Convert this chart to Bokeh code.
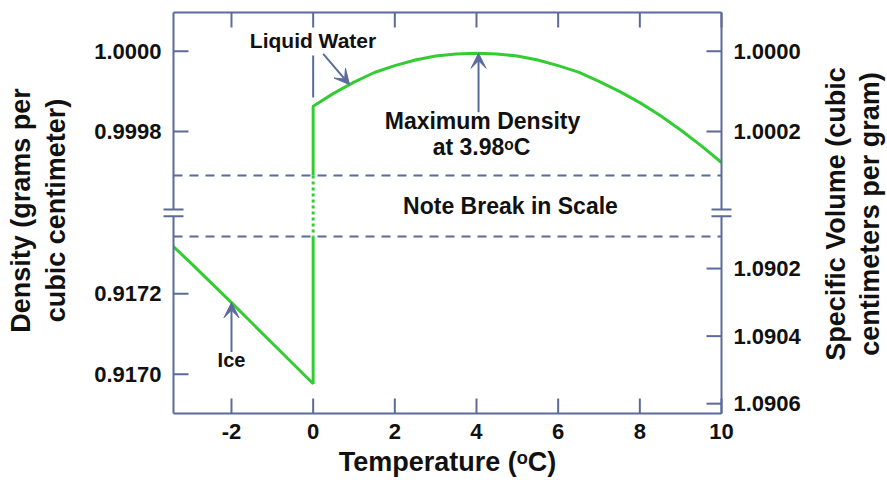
import math
import numpy as np
from bokeh.plotting import figure
from bokeh.models import Range1d, Label, Arrow, VeeHead
from bokeh.embed import file_html
from bokeh.resources import INLINE

# ---------------- data ----------------
temp_ticks = [-2, 0, 2, 4, 6, 8, 10]
temp_tick_labels = ["-2", "0", "2", "4", "6", "8", "10"]

melt_temp = 0.0
ice_temp = [-3.5, -3.0, -2.0, -1.0, 0.0]
ice_density = [0.917325, 0.917277, 0.917178, 0.917077, 0.916976]

water_temp = [0.0, 0.5, 1.0, 1.5, 2.0, 2.5, 3.0, 3.5, 4.0, 4.5, 5.0,
              5.5, 6.0, 6.5, 7.0, 7.5, 8.0, 8.5, 9.0, 9.5, 10.0]
water_density = [0.999863, 0.999895, 0.999923, 0.999947, 0.999964, 0.999978,
                 0.999988, 0.999993, 0.999995, 0.999993, 0.999988, 0.999978,
                 0.999964, 0.999948, 0.999925, 0.999900, 0.999872, 0.999840,
                 0.999804, 0.999765, 0.999723]

density_ticks = [1.0000, 0.9998, 0.9172, 0.9170]
density_tick_labels = ["1.0000", "0.9998", "0.9172", "0.9170"]
volume_ticks = [1.0000, 1.0002, 1.0902, 1.0904, 1.0906]
volume_tick_labels = ["1.0000", "1.0002", "1.0902", "1.0904", "1.0906"]

x_title = "Temperature (\u1d52C)"
left_title = ["Density (grams per", "cubic centimeter)"]
right_title = ["Specific Volume (cubic", "centimeters per gram)"]

max_density_temp = 4.05   # where the arrow points
liquid_arrow_temp = 0.89
ice_arrow_temp = -2.0

# ---------------- broken-scale mapping ----------------
UNIT = 0.0001
UPPER_REF = 1.0000
LOWER_REF = 0.9172
LOWER_SHIFT = 6.04


def to_u(d):
    d = np.asarray(d, dtype=float)
    return np.where(d > 0.95, (d - UPPER_REF) / UNIT, (d - LOWER_REF) / UNIT - LOWER_SHIFT)


# ---------------- layout (page pixel -> data) ----------------
X0, X1 = -3.42, 10.0          # plot box (temperature)
U0, U1 = -9.02, 0.964         # plot box (broken density scale)
BOX_L, BOX_W = 173.0, 548.0
BOX_T, BOX_H = 12.0, 401.0
PX_X = BOX_W / (X1 - X0)
PX_U = BOX_H / (U1 - U0)
W, H = 887, 480


def X(px):
    return X0 + (px - BOX_L) / PX_X


def U(py):
    return U1 - (py - BOX_T) / PX_U


AXIS = "#5b6b9b"
GREEN = "#33cc33"
FONT = "Liberation Sans"
TXT = "#111111"

p = figure(width=W, height=H, output_backend="svg", toolbar_location=None,
           x_range=Range1d(X(0), X(W)), y_range=Range1d(U(H), U(0)),
           x_axis_location=None, y_axis_location=None, min_border=0)
p.min_border_left = p.min_border_right = p.min_border_top = p.min_border_bottom = 0
p.xgrid.visible = False
p.ygrid.visible = False
p.outline_line_color = None
p.background_fill_color = "white"
p.border_fill_color = "white"

MARK_HI = U(209.0)
MARK_LO = U(215.7)
BREAK_HI = U(175)
BREAK_LO = U(236)
TICK_X = 15 / PX_X
TICK_U = 15 / PX_U
MARK_X = 10 / PX_X

left_u = list(to_u(density_ticks))
right_u = list(to_u(1.0 / np.asarray(volume_ticks)))

# curves
water_u = to_u(water_density)
ice_u = to_u(ice_density)
p.line([melt_temp] + water_temp, [BREAK_HI] + list(water_u),
       line_color=GREEN, line_width=3)
p.line(ice_temp + [melt_temp], list(ice_u) + [BREAK_LO],
       line_color=GREEN, line_width=3)
p.line([melt_temp, melt_temp], [BREAK_HI, BREAK_LO],
       line_color=GREEN, line_width=3, line_dash="3 3")
# mask the ice line left of the plot box
p.quad(left=[X(0)], right=[X0], bottom=[U0], top=[U1],
       fill_color="white", line_color=None)

# scale-break dashed lines
p.segment(x0=[X0, X0], y0=[BREAK_HI, BREAK_LO], x1=[X1, X1], y1=[BREAK_HI, BREAK_LO],
          line_color=AXIS, line_width=2, line_dash="9 7")

# plot box: top/bottom lines, side lines with the gap of the scale break
p.segment(x0=[X0, X0], y0=[U0, U1], x1=[X1, X1], y1=[U0, U1],
          line_color=AXIS, line_width=2)
p.segment(x0=[X0, X0, X1, X1], y0=[U0, MARK_HI, U0, MARK_HI],
          x1=[X0, X0, X1, X1], y1=[MARK_LO, U1, MARK_LO, U1],
          line_color=AXIS, line_width=2)

# tick marks (inward)
n = len(temp_ticks)
p.segment(x0=temp_ticks, y0=[U0] * n, x1=temp_ticks, y1=[U0 + TICK_U] * n,
          line_color=AXIS, line_width=2)
p.segment(x0=temp_ticks, y0=[U1] * n, x1=temp_ticks, y1=[U1 - TICK_U] * n,
          line_color=AXIS, line_width=2)
p.segment(x0=[X0] * len(left_u), y0=left_u, x1=[X0 + TICK_X] * len(left_u),
          y1=left_u, line_color=AXIS, line_width=2)
p.segment(x0=[X1] * len(right_u), y0=right_u, x1=[X1 - TICK_X] * len(right_u),
          y1=right_u, line_color=AXIS, line_width=2)

# "=" break marks on both side axes
for xe in (X0, X1):
    p.segment(x0=[xe - MARK_X] * 2, y0=[MARK_HI, MARK_LO],
              x1=[xe + MARK_X] * 2, y1=[MARK_HI, MARK_LO],
              line_color=AXIS, line_width=2)


# arrows / pointers
def pointer(x0, y0, x1, y1, head=True):
    end = VeeHead(size=15, fill_color=AXIS, line_color=AXIS, line_width=1) if head else None
    p.add_layout(Arrow(end=end, x_start=x0, y_start=y0, x_end=x1, y_end=y1,
                       line_color=AXIS, line_width=2))


pointer(melt_temp, U(55), melt_temp, U(97), head=False)
pointer(X(322.7), U(53.3), liquid_arrow_temp,
        float(np.interp(liquid_arrow_temp, water_temp, water_u)))
pointer(max_density_temp, U(111.7), max_density_temp,
        float(np.interp(max_density_temp, water_temp, water_u)))
pointer(ice_arrow_temp, U(351.5), ice_arrow_temp,
        float(np.interp(ice_arrow_temp, ice_temp, ice_u)))


def text(t, x, y, size, align="center", baseline="middle", angle=0.0):
    p.add_layout(Label(x=x, y=y, text=t, text_font=FONT, text_font_style="bold",
                       text_font_size=f"{size}px", text_align=align,
                       text_baseline=baseline, text_color=TXT, angle=angle))


# tick labels
for t, lab in zip(temp_ticks, temp_tick_labels):
    text(lab, t, U(423), 22, baseline="top")
for u, lab in zip(left_u, density_tick_labels):
    text(lab, X(161), float(u), 22, align="right")
for u, lab in zip(right_u, volume_tick_labels):
    text(lab, X(733), float(u), 22, align="left")

# axis titles (centred boxes)
text(x_title, (X0 + X1) / 2, U(461.5), 27)
text(left_title[0], X(20.5), U(210), 27, angle=math.pi / 2)
text(left_title[1], X(55.5), U(210), 27, angle=math.pi / 2)
text(right_title[0], X(835), U(213.5), 27, angle=math.pi / 2)
text(right_title[1], X(869.5), U(213.5), 27, angle=math.pi / 2)

# annotations
text("Liquid Water", X(312.5), U(40.3), 21)
text("Maximum Density", X(482), U(120.3), 23)
text("at 3.98\u1d52C", X(481), U(146.3), 23)
text("Note Break in Scale", X(510), U(205.3), 23)
text("Ice", X(231), U(359.7), 20)

open("out.html", "w").write(file_html(p, INLINE))
